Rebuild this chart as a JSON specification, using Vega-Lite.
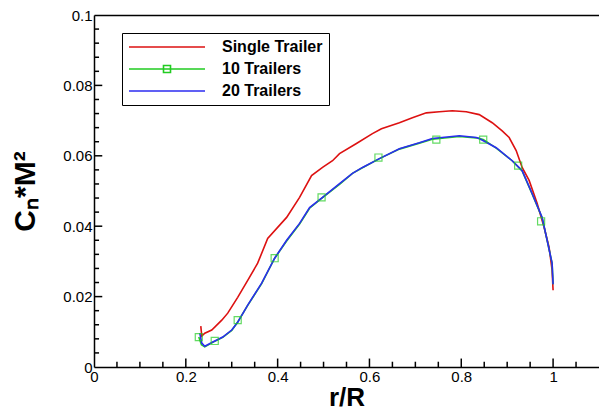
{
  "$schema": "https://vega.github.io/schema/vega-lite/v6.json",
  "width": 505,
  "height": 352,
  "autosize": {"type": "none"},
  "padding": {"left": 94, "top": 15, "right": 0, "bottom": 47},
  "background": "white",
  "config": {"view": {"stroke": null}, "font": "Liberation Sans"},
  "datasets": {
    "curves": [
      {"series": "Single Trailer", "r": 0.2326, "cn": 0.0116},
      {"series": "Single Trailer", "r": 0.2348, "cn": 0.0088},
      {"series": "Single Trailer", "r": 0.2413, "cn": 0.0096},
      {"series": "Single Trailer", "r": 0.2565, "cn": 0.0105},
      {"series": "Single Trailer", "r": 0.2783, "cn": 0.0133},
      {"series": "Single Trailer", "r": 0.2913, "cn": 0.0153},
      {"series": "Single Trailer", "r": 0.3130, "cn": 0.0198},
      {"series": "Single Trailer", "r": 0.3348, "cn": 0.0246},
      {"series": "Single Trailer", "r": 0.3565, "cn": 0.0295},
      {"series": "Single Trailer", "r": 0.3783, "cn": 0.0365},
      {"series": "Single Trailer", "r": 0.4196, "cn": 0.0425},
      {"series": "Single Trailer", "r": 0.4478, "cn": 0.0482},
      {"series": "Single Trailer", "r": 0.4739, "cn": 0.0544},
      {"series": "Single Trailer", "r": 0.4978, "cn": 0.0567},
      {"series": "Single Trailer", "r": 0.5196, "cn": 0.0586},
      {"series": "Single Trailer", "r": 0.5348, "cn": 0.0606},
      {"series": "Single Trailer", "r": 0.5717, "cn": 0.0635},
      {"series": "Single Trailer", "r": 0.6065, "cn": 0.0663},
      {"series": "Single Trailer", "r": 0.6261, "cn": 0.0677},
      {"series": "Single Trailer", "r": 0.6652, "cn": 0.0694},
      {"series": "Single Trailer", "r": 0.6935, "cn": 0.0708},
      {"series": "Single Trailer", "r": 0.7239, "cn": 0.0722},
      {"series": "Single Trailer", "r": 0.7522, "cn": 0.0725},
      {"series": "Single Trailer", "r": 0.7804, "cn": 0.0728},
      {"series": "Single Trailer", "r": 0.8109, "cn": 0.0725},
      {"series": "Single Trailer", "r": 0.8391, "cn": 0.0717},
      {"series": "Single Trailer", "r": 0.8674, "cn": 0.0694},
      {"series": "Single Trailer", "r": 0.8891, "cn": 0.0671},
      {"series": "Single Trailer", "r": 0.9043, "cn": 0.0652},
      {"series": "Single Trailer", "r": 0.9196, "cn": 0.0615},
      {"series": "Single Trailer", "r": 0.9326, "cn": 0.0567},
      {"series": "Single Trailer", "r": 0.9478, "cn": 0.0530},
      {"series": "Single Trailer", "r": 0.9652, "cn": 0.0465},
      {"series": "Single Trailer", "r": 0.9804, "cn": 0.0397},
      {"series": "Single Trailer", "r": 0.9913, "cn": 0.0340},
      {"series": "Single Trailer", "r": 0.9978, "cn": 0.0275},
      {"series": "Single Trailer", "r": 1.0000, "cn": 0.0218},

      {"series": "10 Trailers", "r": 0.2283, "cn": 0.0085},
      {"series": "10 Trailers", "r": 0.2340, "cn": 0.0063},
      {"series": "10 Trailers", "r": 0.2413, "cn": 0.0057},
      {"series": "10 Trailers", "r": 0.2587, "cn": 0.0070},
      {"series": "10 Trailers", "r": 0.2804, "cn": 0.0084},
      {"series": "10 Trailers", "r": 0.3000, "cn": 0.0104},
      {"series": "10 Trailers", "r": 0.3130, "cn": 0.0128},
      {"series": "10 Trailers", "r": 0.3348, "cn": 0.0175},
      {"series": "10 Trailers", "r": 0.3652, "cn": 0.0237},
      {"series": "10 Trailers", "r": 0.3935, "cn": 0.0309},
      {"series": "10 Trailers", "r": 0.4196, "cn": 0.0358},
      {"series": "10 Trailers", "r": 0.4478, "cn": 0.0406},
      {"series": "10 Trailers", "r": 0.4696, "cn": 0.0451},
      {"series": "10 Trailers", "r": 0.4978, "cn": 0.0481},
      {"series": "10 Trailers", "r": 0.5348, "cn": 0.0519},
      {"series": "10 Trailers", "r": 0.5630, "cn": 0.0550},
      {"series": "10 Trailers", "r": 0.5848, "cn": 0.0566},
      {"series": "10 Trailers", "r": 0.6217, "cn": 0.0592},
      {"series": "10 Trailers", "r": 0.6652, "cn": 0.0619},
      {"series": "10 Trailers", "r": 0.7087, "cn": 0.0636},
      {"series": "10 Trailers", "r": 0.7370, "cn": 0.0647},
      {"series": "10 Trailers", "r": 0.7957, "cn": 0.0655},
      {"series": "10 Trailers", "r": 0.8326, "cn": 0.0651},
      {"series": "10 Trailers", "r": 0.8478, "cn": 0.0646},
      {"series": "10 Trailers", "r": 0.8761, "cn": 0.0622},
      {"series": "10 Trailers", "r": 0.9109, "cn": 0.0586},
      {"series": "10 Trailers", "r": 0.9326, "cn": 0.0557},
      {"series": "10 Trailers", "r": 0.9543, "cn": 0.0492},
      {"series": "10 Trailers", "r": 0.9761, "cn": 0.0424},
      {"series": "10 Trailers", "r": 0.9870, "cn": 0.0360},
      {"series": "10 Trailers", "r": 0.9978, "cn": 0.0295},
      {"series": "10 Trailers", "r": 1.0000, "cn": 0.0235},

      {"series": "20 Trailers", "r": 0.2304, "cn": 0.0096},
      {"series": "20 Trailers", "r": 0.2348, "cn": 0.0068},
      {"series": "20 Trailers", "r": 0.2413, "cn": 0.0059},
      {"series": "20 Trailers", "r": 0.2587, "cn": 0.0071},
      {"series": "20 Trailers", "r": 0.2804, "cn": 0.0085},
      {"series": "20 Trailers", "r": 0.3000, "cn": 0.0105},
      {"series": "20 Trailers", "r": 0.3130, "cn": 0.0127},
      {"series": "20 Trailers", "r": 0.3348, "cn": 0.0176},
      {"series": "20 Trailers", "r": 0.3652, "cn": 0.0238},
      {"series": "20 Trailers", "r": 0.3935, "cn": 0.0309},
      {"series": "20 Trailers", "r": 0.4196, "cn": 0.0360},
      {"series": "20 Trailers", "r": 0.4478, "cn": 0.0408},
      {"series": "20 Trailers", "r": 0.4696, "cn": 0.0453},
      {"series": "20 Trailers", "r": 0.4978, "cn": 0.0482},
      {"series": "20 Trailers", "r": 0.5348, "cn": 0.0521},
      {"series": "20 Trailers", "r": 0.5630, "cn": 0.0550},
      {"series": "20 Trailers", "r": 0.5848, "cn": 0.0567},
      {"series": "20 Trailers", "r": 0.6217, "cn": 0.0592},
      {"series": "20 Trailers", "r": 0.6652, "cn": 0.0620},
      {"series": "20 Trailers", "r": 0.7087, "cn": 0.0637},
      {"series": "20 Trailers", "r": 0.7370, "cn": 0.0649},
      {"series": "20 Trailers", "r": 0.7957, "cn": 0.0657},
      {"series": "20 Trailers", "r": 0.8326, "cn": 0.0652},
      {"series": "20 Trailers", "r": 0.8391, "cn": 0.0649},
      {"series": "20 Trailers", "r": 0.8761, "cn": 0.0623},
      {"series": "20 Trailers", "r": 0.9109, "cn": 0.0586},
      {"series": "20 Trailers", "r": 0.9326, "cn": 0.0558},
      {"series": "20 Trailers", "r": 0.9543, "cn": 0.0493},
      {"series": "20 Trailers", "r": 0.9761, "cn": 0.0425},
      {"series": "20 Trailers", "r": 0.9870, "cn": 0.0360},
      {"series": "20 Trailers", "r": 0.9978, "cn": 0.0295},
      {"series": "20 Trailers", "r": 1.0000, "cn": 0.0235}
    ],
    "markers": [
      {"series": "10 Trailers", "r": 0.2283, "cn": 0.0085},
      {"series": "10 Trailers", "r": 0.2630, "cn": 0.0074},
      {"series": "10 Trailers", "r": 0.3130, "cn": 0.0133},
      {"series": "10 Trailers", "r": 0.3935, "cn": 0.0309},
      {"series": "10 Trailers", "r": 0.4957, "cn": 0.0482},
      {"series": "10 Trailers", "r": 0.6196, "cn": 0.0595},
      {"series": "10 Trailers", "r": 0.7457, "cn": 0.0646},
      {"series": "10 Trailers", "r": 0.8478, "cn": 0.0646},
      {"series": "10 Trailers", "r": 0.9239, "cn": 0.0572},
      {"series": "10 Trailers", "r": 0.9739, "cn": 0.0414}
    ],
    "xticks": [
      {"v": 0.2, "major": true}, {"v": 0.4, "major": true}, {"v": 0.6, "major": true},
      {"v": 0.8, "major": true}, {"v": 1.0, "major": true},
      {"v": 0.05, "major": false}, {"v": 0.1, "major": false}, {"v": 0.15, "major": false},
      {"v": 0.25, "major": false}, {"v": 0.3, "major": false}, {"v": 0.35, "major": false},
      {"v": 0.45, "major": false}, {"v": 0.5, "major": false}, {"v": 0.55, "major": false},
      {"v": 0.65, "major": false}, {"v": 0.7, "major": false}, {"v": 0.75, "major": false},
      {"v": 0.85, "major": false}, {"v": 0.9, "major": false}, {"v": 0.95, "major": false},
      {"v": 1.05, "major": false}
    ],
    "yticks": [
      {"v": 0.02, "major": true}, {"v": 0.04, "major": true}, {"v": 0.06, "major": true},
      {"v": 0.08, "major": true},
      {"v": 0.004, "major": false}, {"v": 0.008, "major": false}, {"v": 0.012, "major": false}, {"v": 0.016, "major": false},
      {"v": 0.024, "major": false}, {"v": 0.028, "major": false}, {"v": 0.032, "major": false}, {"v": 0.036, "major": false},
      {"v": 0.044, "major": false}, {"v": 0.048, "major": false}, {"v": 0.052, "major": false}, {"v": 0.056, "major": false},
      {"v": 0.064, "major": false}, {"v": 0.068, "major": false}, {"v": 0.072, "major": false}, {"v": 0.076, "major": false},
      {"v": 0.084, "major": false}, {"v": 0.088, "major": false}, {"v": 0.092, "major": false}, {"v": 0.096, "major": false}
    ]
  },
  "layer": [
    {
      "data": {"name": "curves"},
      "transform": [{"filter": "datum.series === 'Single Trailer'"}],
      "mark": {"type": "line", "strokeWidth": 1.6},
      "encoding": {
        "x": {
          "field": "r", "type": "quantitative",
          "scale": {"domain": [0, 1.1], "nice": false, "zero": false},
          "axis": {
            "orient": "bottom",
            "values": [0, 0.2, 0.4, 0.6, 0.8, 1.0],
            "labelExpr": "format(datum.value, '~g')",
            "ticks": false,
            "domainColor": "black", "domainWidth": 1.5,
            "labelFontSize": 15, "labelColor": "black",
            "labelFlush": false, "labelOverlap": false,
            "grid": false,
            "title": "r/R", "titleFontSize": 26, "titleFontWeight": "bold", "titleColor": "black", "titlePadding": 0
          }
        },
        "y": {
          "field": "cn", "type": "quantitative",
          "scale": {"domain": [0, 0.1], "nice": false},
          "axis": {
            "orient": "left",
            "values": [0, 0.02, 0.04, 0.06, 0.08, 0.1],
            "labelExpr": "format(datum.value, '~g')",
            "ticks": false,
            "domainColor": "black", "domainWidth": 1.5,
            "labelFontSize": 15, "labelColor": "black",
            "labelFlush": false, "labelOverlap": false,
            "grid": false,
            "title": "Cₙ*M²", "titleFontSize": 30, "titleFontWeight": "bold", "titleColor": "black", "titlePadding": 22
          }
        },
        "color": {
          "field": "series", "type": "nominal",
          "scale": {"domain": ["Single Trailer", "10 Trailers", "20 Trailers"], "range": ["#dd1111", "#22cc22", "#2b2bf0"]},
          "legend": {
            "title": null, "orient": "none", "legendX": 28, "legendY": 18,
            "padding": 6, "strokeColor": "black", "fillColor": "white",
            "symbolSize": 100, "symbolStrokeWidth": 1.6,
            "labelFontSize": 16, "labelFontWeight": "bold", "labelColor": "black",
            "labelOffset": 78, "rowPadding": 6,
            "encode": {
              "symbols": {
                "update": {
                  "shape": {"signal": "datum.value === '10 Trailers' ? 'M-1.4,0H13.8M5.5,-0.7H6.9V0.7H5.5Z' : 'M-1.4,0H13.8'"},
                  "fill": {"value": "transparent"}
                }
              }
            }
          }
        }
      }
    },
    {
      "data": {"name": "curves"},
      "transform": [{"filter": "datum.series === '10 Trailers'"}],
      "mark": {"type": "line", "strokeWidth": 1.6},
      "encoding": {
        "x": {
          "field": "r", "type": "quantitative",
          "axis": {"orient": "top", "ticks": false, "labels": false, "title": null, "grid": false, "domainColor": "black", "domainWidth": 1.5}
        },
        "y": {"field": "cn", "type": "quantitative", "axis": null},
        "color": {"field": "series", "type": "nominal"}
      }
    },
    {
      "data": {"name": "curves"},
      "transform": [{"filter": "datum.series === '20 Trailers'"}],
      "mark": {"type": "line", "strokeWidth": 1.6},
      "encoding": {
        "x": {"field": "r", "type": "quantitative", "axis": null},
        "y": {"field": "cn", "type": "quantitative", "axis": null},
        "color": {"field": "series", "type": "nominal"}
      }
    },
    {
      "data": {"name": "markers"},
      "mark": {"type": "point", "shape": "square", "filled": false, "size": 50, "strokeWidth": 1.2},
      "encoding": {
        "x": {"field": "r", "type": "quantitative", "axis": null},
        "y": {"field": "cn", "type": "quantitative", "axis": null},
        "color": {"field": "series", "type": "nominal"}
      }
    },
    {
      "data": {"name": "xticks"},
      "transform": [{"filter": "datum.major"}],
      "mark": {"type": "rule", "stroke": "#000000", "strokeWidth": 1.5, "opacity": 1},
      "encoding": {
        "x": {"field": "v", "type": "quantitative", "axis": null},
        "y": {"datum": 0, "type": "quantitative", "axis": null},
        "y2": {"datum": 0.0024}
      }
    },
    {
      "data": {"name": "xticks"},
      "transform": [{"filter": "!datum.major"}],
      "mark": {"type": "rule", "stroke": "#000000", "strokeWidth": 1.5, "opacity": 1},
      "encoding": {
        "x": {"field": "v", "type": "quantitative", "axis": null},
        "y": {"datum": 0, "type": "quantitative", "axis": null},
        "y2": {"datum": 0.0015}
      }
    },
    {
      "data": {"name": "yticks"},
      "transform": [{"filter": "datum.major"}],
      "mark": {"type": "rule", "stroke": "#000000", "strokeWidth": 1.5, "opacity": 1},
      "encoding": {
        "y": {"field": "v", "type": "quantitative", "axis": null},
        "x": {"datum": 0, "type": "quantitative", "axis": null},
        "x2": {"datum": 0.018}
      }
    },
    {
      "data": {"name": "yticks"},
      "transform": [{"filter": "!datum.major"}],
      "mark": {"type": "rule", "stroke": "#000000", "strokeWidth": 1.5, "opacity": 1},
      "encoding": {
        "y": {"field": "v", "type": "quantitative", "axis": null},
        "x": {"datum": 0, "type": "quantitative", "axis": null},
        "x2": {"datum": 0.011}
      }
    }
  ],
  "resolve": {"axis": {"x": "independent", "y": "independent"}}
}
